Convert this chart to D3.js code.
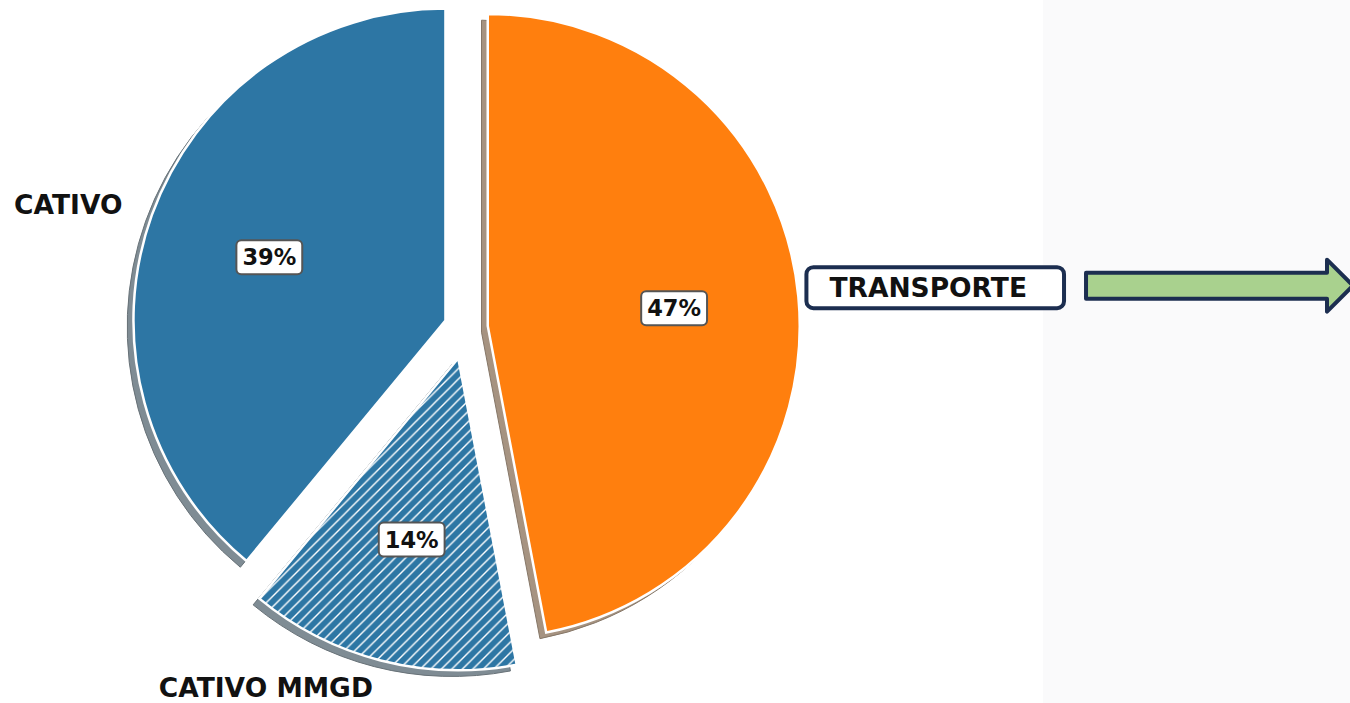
<!DOCTYPE html>
<html>
<head>
<meta charset="utf-8">
<script src="https://cdn.jsdelivr.net/npm/d3@7"></script>
<style>
  html, body { margin: 0; padding: 0; background: #ffffff; }
  svg { display: block; }
  text { font-family: "DejaVu Sans", sans-serif; font-weight: bold; }
</style>
</head>
<body>
<svg id="chart" width="1350" height="703"></svg>
<script>
// ---- data ----
const categories = ["CATIVO", "CATIVO MMGD", "TRANSPORTE"];
const values = [39, 14, 47];
const explode = [0.07, 0.10, 0.07];
const hatched = [false, true, false];

// ---- styling / geometry ----
const W = 1350, H = 703;
const cx = 466, cy = 328, R = 312;
const fillColors = ["#2d76a4", "#2d76a4", "#ff7f0e"];
const shadowColors = ["#7f8c94", "#7f8c94", "#a69381"];

const svg = d3.select("#chart");

// right-side light panel
svg.append("rect").attr("x", 1043).attr("y", 0).attr("width", W - 1043).attr("height", H)
  .attr("fill", "#fafafb");

const defs = svg.append("defs");
const P = 10.5;
const pat = defs.append("pattern").attr("id", "hatch")
  .attr("patternUnits", "userSpaceOnUse").attr("width", P).attr("height", P);
pat.append("rect").attr("width", P).attr("height", P).attr("fill", fillColors[1]);
pat.append("path").attr("d", `M-2,${P + 2} L${P + 2},-2 M-2,2 L2,-2 M${P - 2},${P + 2} L${P + 2},${P - 2}`)
  .attr("stroke", "#ffffff").attr("stroke-width", 1.4);

// data-unit scale (matplotlib pie radius = 1)
const u = d3.scaleLinear().domain([0, 1]).range([0, R]);

const data = categories.map((c, i) => ({ cat: c, value: values[i], explode: explode[i], hatch: hatched[i], i }));
const total = d3.sum(values);

const pie = d3.pie().sort(null).startAngle(0).endAngle(-2 * Math.PI).value(d => d.value);
const arcs = pie(data);
const arcGen = d3.arc().innerRadius(0).outerRadius(u(1));

arcs.forEach(a => {
  const mid = (a.startAngle + a.endAngle) / 2;
  a.dx = Math.sin(mid);
  a.dy = -Math.cos(mid);
  a.ox = cx + u(a.data.explode) * a.dx;
  a.oy = cy + u(a.data.explode) * a.dy;
});

const gShadow = svg.append("g");
const gWedge = svg.append("g");
const gLabel = svg.append("g");

// shadows (offset -0.02, -0.02 in data units -> left & down)
gShadow.selectAll("path").data(arcs).enter().append("path")
  .attr("transform", a => `translate(${a.ox - u(0.02)},${a.oy + u(0.02)})`)
  .attr("d", arcGen)
  .attr("fill", a => shadowColors[a.data.i])
  .attr("stroke", a => d3.color(shadowColors[a.data.i]).darker(0.6))
  .attr("stroke-width", 1);

// wedges
gWedge.selectAll("path").data(arcs).enter().append("path")
  .attr("transform", a => `translate(${a.ox},${a.oy})`)
  .attr("d", arcGen)
  .attr("fill", a => a.data.hatch ? "url(#hatch)" : fillColors[a.data.i])
  .attr("stroke", "#ffffff")
  .attr("stroke-width", 2.5)
  .attr("stroke-linejoin", "miter");

// percentage labels with rounded white boxes
const pct = d => Math.round(d.value / total * 100) + "%";
arcs.forEach(a => {
  const px = a.ox + u(0.6) * a.dx, py = a.oy + u(0.6) * a.dy;
  const lg = gLabel.append("g");
  const box = lg.append("rect");
  const t = lg.append("text").attr("x", px).attr("y", py)
    .attr("text-anchor", "middle").attr("dominant-baseline", "central")
    .attr("font-size", 22.5).attr("fill", "#111").text(pct(a.data));
  const bb = t.node().getBBox();
  box.attr("x", bb.x - 6).attr("y", py - 17).attr("width", bb.width + 12).attr("height", 34)
    .attr("rx", 5).attr("fill", "#ffffff").attr("stroke", "#555").attr("stroke-width", 2);
});

// category labels (labeldistance 1.1)
arcs.forEach(a => {
  const lx = a.ox + u(1.1) * a.dx, ly = a.oy + u(1.1) * a.dy;
  const isT = a.data.cat === "TRANSPORTE";
  const lg = gLabel.append("g");
  const box = lg.append("rect");
  const ty = isT ? ly - 6 : (a.dy > 0.9 ? ly - 3 : ly);
  const t = lg.append("text").attr("x", lx).attr("y", ty)
    .attr("text-anchor", a.dx < 0 ? "end" : "start")
    .attr("dominant-baseline", "central")
    .attr("font-size", 26.5).attr("fill", "#111").text(a.data.cat);
  if (isT) {
    const bb = t.node().getBBox();
    const bx = bb.x - 23, bw = bb.width + 60;
    box.attr("x", bx).attr("y", ty - 20.5).attr("width", bw).attr("height", 41)
      .attr("rx", 7).attr("fill", "#ffffff").attr("stroke", "#1c2e50").attr("stroke-width", 4);
    // block arrow to the right of the box
    const ax0 = bx + bw + 22;
    const ay = ty - 2;
    const pts = [
      [ax0, ay - 13], [1327, ay - 13], [1327, ay - 26], [1353, ay],
      [1327, ay + 26], [1327, ay + 13], [ax0, ay + 13]
    ];
    svg.append("path").attr("d", d3.line()(pts) + "Z")
      .attr("fill", "#a9d18e").attr("stroke", "#1c2e50").attr("stroke-width", 4)
      .attr("stroke-linejoin", "round");
  } else {
    box.remove();
  }
});
</script>
</body>
</html>
